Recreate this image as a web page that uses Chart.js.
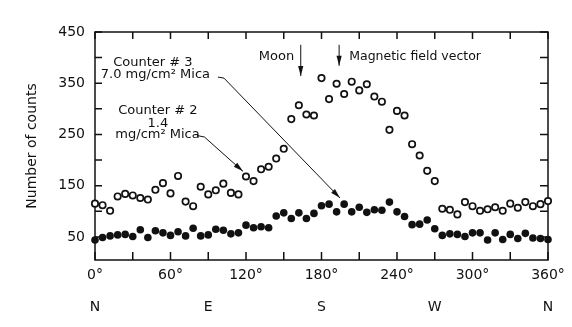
<!DOCTYPE html>
<html>
<head>
<meta charset="utf-8">
<script src="https://cdn.jsdelivr.net/npm/chart.js@4.4.1/dist/chart.umd.min.js"></script>
<style>
  html, body { margin: 0; padding: 0; background: #fff; }
  #wrap { width: 572px; height: 327px; }
</style>
</head>
<body>
<div id="wrap"><canvas id="countChart"></canvas></div>
<script>
// azimuth of each reading (degrees)
const angles = [
  0, 6, 12, 18, 24, 30, 36, 42, 48, 54, 60, 66, 72, 78, 84, 90, 96, 102, 108, 114,
  120, 126, 132, 138, 144, 150, 156, 162, 168, 174, 180, 186, 192, 198, 204, 210,
  216, 222, 228, 234, 240, 246, 252, 258, 264, 270, 276, 282, 288, 294, 300, 306,
  312, 318, 324, 330, 336, 342, 348, 354, 360,
];

// Counter #2, 1.4 mg/cm2 mica (open circles)
const counter2 = [
  115, 112, 101, 129, 134, 131, 126, 123, 142, 155, 135, 169, 119, 110, 148, 133, 141, 154, 136, 133,
  168, 159, 182, 187, 203, 222, 280, 307, 289, 287, 360, 319, 349, 329, 353, 336,
  348, 324, 314, 259, 296, 287, 231, 209, 179, 159, 105, 103, 94, 118, 110, 101,
  104, 108, 101, 115, 107, 118, 110, 114, 120,
];

// Counter #3, 7.0 mg/cm2 mica (filled circles)
const counter3 = [
  44, 49, 52, 54, 55, 51, 64, 49, 62, 58, 53, 60, 52, 67, 52, 54, 65, 63, 56, 58,
  73, 68, 70, 68, 91, 97, 86, 97, 86, 96, 111, 114, 99, 114, 99, 108,
  98, 103, 102, 118, 99, 90, 74, 75, 83, 66, 53, 56, 55, 51, 58, 58,
  44, 58, 45, 55, 47, 57, 48, 47, 45,
];

const yTicks = [50, 100, 150, 200, 250, 300, 350, 400, 450];
const yLabels = [50, 150, 250, 350, 450];
const xTicks = [0, 30, 60, 90, 120, 150, 180, 210, 240, 270, 300, 330, 360];
const xLabels = [0, 60, 120, 180, 240, 300, 360];
const compassAt = [0, 90, 180, 270, 360];
const compassNames = ["N", "E", "S", "W", "N"];

const INK = "#111";
Chart.defaults.font.family = "'DejaVu Sans', sans-serif";
Chart.defaults.font.size = 14;
Chart.defaults.color = INK;

// frame with inward ticks, plus the hand-lettered notes and arrows
const framePlugin = {
  id: "frame",
  beforeDatasetsDraw(chart) {
    const { ctx, chartArea: a, scales } = chart;
    const x = scales.x, y = scales.y;
    ctx.save();
    ctx.strokeStyle = INK;
    ctx.lineWidth = 1.5;
    ctx.strokeRect(a.left, a.top, a.right - a.left, a.bottom - a.top);
    ctx.beginPath();
    xTicks.forEach((v) => {
      const px = x.getPixelForValue(v);
      ctx.moveTo(px, a.bottom); ctx.lineTo(px, a.bottom - 8);
      ctx.moveTo(px, a.top); ctx.lineTo(px, a.top + 7);
    });
    yTicks.forEach((v) => {
      const py = y.getPixelForValue(v);
      ctx.moveTo(a.left, py); ctx.lineTo(a.left + 7, py);
      ctx.moveTo(a.right, py); ctx.lineTo(a.right - 8, py);
    });
    ctx.stroke();
    ctx.restore();
  },
  afterDatasetsDraw(chart) {
    const { ctx, scales } = chart;
    const P = (deg, cnt) => [scales.x.getPixelForValue(deg), scales.y.getPixelForValue(cnt)];

    ctx.save();
    ctx.fillStyle = INK;
    ctx.strokeStyle = INK;
    ctx.textBaseline = "middle";

    const text = (s, deg, cnt, align, size) => {
      const [px, py] = P(deg, cnt);
      ctx.font = (size || 13) + "px 'DejaVu Sans', sans-serif";
      ctx.textAlign = align || "center";
      ctx.fillText(s, px, py);
    };
    const arrow = (pts) => {
      const p = pts.map((q) => P(q[0], q[1]));
      ctx.lineWidth = 1;
      ctx.beginPath();
      ctx.moveTo(p[0][0], p[0][1]);
      for (let i = 1; i < p.length; i++) ctx.lineTo(p[i][0], p[i][1]);
      ctx.stroke();
      const [x1, y1] = p[p.length - 2];
      const [x2, y2] = p[p.length - 1];
      const ang = Math.atan2(y2 - y1, x2 - x1);
      ctx.beginPath();
      ctx.moveTo(x2, y2);
      ctx.lineTo(x2 - 10 * Math.cos(ang) + 2.6 * Math.sin(ang), y2 - 10 * Math.sin(ang) - 2.6 * Math.cos(ang));
      ctx.lineTo(x2 - 10 * Math.cos(ang) - 2.6 * Math.sin(ang), y2 - 10 * Math.sin(ang) + 2.6 * Math.cos(ang));
      ctx.closePath();
      ctx.fill();
    };

    text("Moon", 144.2, 401);
    arrow([[163.5, 425], [163.5, 364]]);
    text("Magnetic field vector", 202, 401, "left", 12.5);
    arrow([[194, 425], [194, 384]]);

    text("Counter # 3", 46, 390);
    text("7.0 mg/cm\u00B2 Mica", 48, 366);
    arrow([[97.7, 362], [102.5, 360], [194.7, 126]]);

    text("Counter # 2", 50, 296);
    text("1.4", 50, 272);
    text("mg/cm\u00B2 Mica", 49.7, 249);
    arrow([[81, 248], [87, 245], [117.6, 178]]);

    ctx.restore();
  },
};

const ctx = document.getElementById("countChart").getContext("2d");
new Chart(ctx, {
  type: "scatter",
  data: {
    datasets: [
      {
        label: "Counter #2",
        data: angles.map((a, i) => ({ x: a, y: counter2[i] })),
        pointStyle: "circle",
        pointRadius: 3.2,
        borderWidth: 1.7,
        borderColor: INK,
        backgroundColor: "#fff",
        clip: false,
      },
      {
        label: "Counter #3",
        data: angles.map((a, i) => ({ x: a, y: counter3[i] })),
        pointStyle: "circle",
        pointRadius: 3.8,
        borderWidth: 0,
        borderColor: INK,
        backgroundColor: INK,
        clip: false,
      },
    ],
  },
  options: {
    responsive: true,
    maintainAspectRatio: false,
    animation: false,
    layout: { padding: { top: 32, right: 24, left: 0, bottom: 0 } },
    plugins: { legend: { display: false }, tooltip: { enabled: false } },
    scales: {
      x: {
        type: "linear",
        min: 0,
        max: 360,
        weight: 0,
        grid: { display: false, drawTicks: false },
        border: { display: false },
        afterBuildTicks: (axis) => { axis.ticks = xTicks.map((v) => ({ value: v })); },
        afterFit: (axis) => { axis.height = 37; },
        ticks: {
          padding: 7,
          maxRotation: 0,
          autoSkip: false,
          callback: (v) => (xLabels.includes(v) ? v + "°" : ""),
        },
      },
      x2: {
        type: "linear",
        position: "bottom",
        min: 0,
        max: 360,
        weight: 1,
        grid: { display: false, drawTicks: false },
        border: { display: false },
        afterBuildTicks: (axis) => { axis.ticks = compassAt.map((v) => ({ value: v })); },
        afterFit: (axis) => { axis.height = 30; },
        ticks: {
          padding: 2,
          maxRotation: 0,
          autoSkip: false,
          callback: (v) => compassNames[compassAt.indexOf(v)],
        },
      },
      y: {
        min: 5,
        max: 450,
        grid: { display: false, drawTicks: false },
        border: { display: false },
        afterBuildTicks: (axis) => { axis.ticks = yTicks.map((v) => ({ value: v })); },
        afterFit: (axis) => { axis.width = 95; },
        ticks: {
          padding: 10,
          autoSkip: false,
          callback: (v) => (yLabels.includes(v) ? v : ""),
        },
        title: {
          display: true,
          text: "Number of counts",
          font: { size: 14 },
          padding: { top: 24, bottom: 0 },
        },
      },
    },
  },
  plugins: [framePlugin],
});
</script>
</body>
</html>
